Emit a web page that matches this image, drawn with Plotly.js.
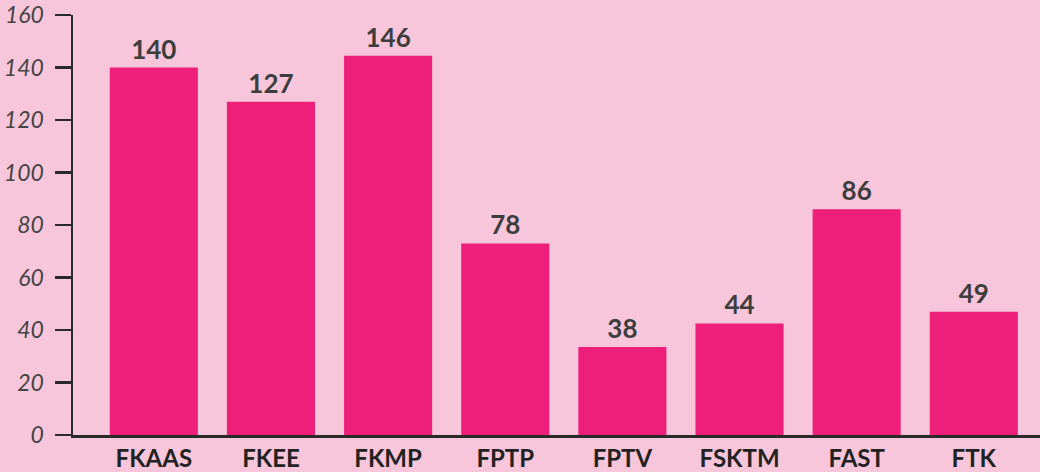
<!DOCTYPE html>
<html>
<head>
<meta charset="utf-8">
<script src="https://cdn.plot.ly/plotly-3.0.1.min.js"></script>
<style>
  html, body { margin: 0; padding: 0; background: #F8C6DA; }
  #chart { width: 1040px; height: 472px; }
</style>
</head>
<body>
<div id="chart"></div>
<script>
const categories = ["FKAAS", "FKEE", "FKMP", "FPTP", "FPTV", "FSKTM", "FAST", "FTK"];
const barHeights = [140, 127, 144.5, 73, 33.5, 42.5, 86, 47];
const barLabels = ["140", "127", "146", "78", "38", "44", "86", "49"];
const yTickValues = [0, 20, 40, 60, 80, 100, 120, 140, 160];

const trace = {
  type: "bar",
  x: categories,
  y: barHeights,
  text: barLabels,
  textposition: "outside",
  textfont: { family: "Lato, 'Open Sans', sans-serif", size: 26, color: "#3d3d3d", weight: "bold" },
  constraintext: "none",
  cliponaxis: false,
  marker: { color: "#EE1F7A", line: { width: 0 } },
  hoverinfo: "none"
};

const layout = {
  width: 1040,
  height: 472,
  paper_bgcolor: "#F8C6DA",
  plot_bgcolor: "#F8C6DA",
  margin: { l: 73, r: 0, t: 15, b: 37 },
  bargap: 0.248,
  showlegend: false,
  xaxis: {
    type: "category",
    range: [-0.69, 7.565],
    showline: true,
    linecolor: "#2a2a2a",
    linewidth: 2.5,
    ticks: "",
    showgrid: false,
    zeroline: false,
    tickfont: { family: "Lato, 'Open Sans', sans-serif", size: 24, color: "#222222", weight: "bold" },
    ticklabelstandoff: 1
  },
  yaxis: {
    range: [0, 160],
    tickvals: yTickValues,
    ticktext: yTickValues.map(String),
    showline: true,
    linecolor: "#2a2a2a",
    linewidth: 2.5,
    ticks: "outside",
    ticklen: 16,
    tickwidth: 2.5,
    tickcolor: "#2a2a2a",
    showgrid: false,
    zeroline: false,
    tickfont: { family: "Lato, 'Open Sans', sans-serif", size: 23, color: "#444444", style: "italic" },
    ticklabelstandoff: 6
  }
};

Plotly.newPlot("chart", [trace], layout, { displayModeBar: false, staticPlot: true });
</script>
</body>
</html>
